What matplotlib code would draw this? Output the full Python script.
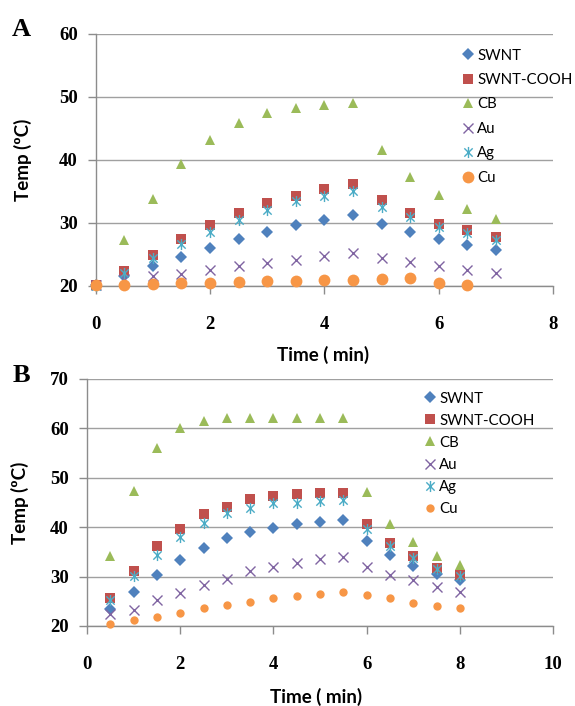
import matplotlib
matplotlib.use("Agg")
import matplotlib.pyplot as plt
from matplotlib.path import Path

# --- Panel A values ---
time_a = [0, 0.5, 1, 1.5, 2, 2.5, 3, 3.5, 4, 4.5, 5, 5.5, 6, 6.5, 7]
swnt_a = [20.1, 21.6, 23.1, 24.6, 26.0, 27.4, 28.6, 29.6, 30.5, 31.3, 29.8, 28.6, 27.5, 26.5, 25.7]
cooh_a = [20.2, 22.4, 24.9, 27.5, 29.7, 31.5, 33.1, 34.3, 35.3, 36.1, 33.6, 31.6, 29.9, 28.9, 27.7]
cb_a = [20.2, 27.3, 33.8, 39.4, 43.2, 45.8, 47.4, 48.2, 48.7, 49.0, 41.6, 37.3, 34.4, 32.2, 30.6]
au_a = [20.1, 21.1, 21.6, 21.9, 22.5, 23.1, 23.7, 24.2, 24.7, 25.3, 24.5, 23.8, 23.2, 22.6, 22.0]
ag_a = [20.0, 22.0, 24.5, 26.6, 28.6, 30.5, 32.0, 33.4, 34.2, 35.0, 32.6, 31.0, 29.4, 28.4, 27.3]
time_a_cu = [0, 0.5, 1, 1.5, 2, 2.5, 3, 3.5, 4, 4.5, 5, 5.5, 6, 6.5]
cu_a = [20.2, 20.2, 20.3, 20.4, 20.5, 20.6, 20.8, 20.8, 21.0, 21.0, 21.1, 21.2, 20.5, 20.1]

# --- Panel B values ---
time_b = [0.5, 1, 1.5, 2, 2.5, 3, 3.5, 4, 4.5, 5, 5.5, 6, 6.5, 7, 7.5, 8]
swnt_b = [23.4, 26.9, 30.4, 33.3, 35.8, 37.7, 39.0, 39.9, 40.6, 41.1, 41.4, 37.2, 34.3, 32.2, 30.6, 29.3]
cooh_b = [25.7, 31.1, 36.2, 39.7, 42.6, 44.1, 45.6, 46.3, 46.7, 46.8, 46.9, 40.7, 36.7, 34.1, 31.8, 30.4]
cb_b = [34.1, 47.3, 55.9, 60.1, 61.5, 62.0, 62.1, 62.1, 62.1, 62.1, 62.1, 47.1, 40.7, 37.0, 34.1, 32.3]
au_b = [22.4, 23.2, 25.3, 26.7, 28.3, 29.6, 31.1, 32.0, 32.7, 33.5, 34.0, 32.0, 30.3, 29.2, 27.9, 26.9]
ag_b = [25.3, 30.1, 34.3, 38.0, 40.9, 42.8, 43.9, 44.8, 44.9, 45.3, 45.4, 39.7, 36.2, 33.7, 31.6, 30.2]
cu_b = [20.4, 21.2, 21.9, 22.7, 23.6, 24.2, 24.8, 25.6, 26.1, 26.5, 26.9, 26.3, 25.6, 24.7, 24.0, 23.6]

labels = ["SWNT", "SWNT-COOH", "CB", "Au", "Ag", "Cu"]
colors = ["#4F81BD", "#C0504D", "#9BBB59", "#8064A2", "#4BACC6", "#F79646"]

# asterisk marker: vertical bar plus an X
star = Path([(0, -1), (0, 1), (-0.75, -0.75), (0.75, 0.75), (-0.75, 0.75), (0.75, -0.75)],
            [Path.MOVETO, Path.LINETO, Path.MOVETO, Path.LINETO, Path.MOVETO, Path.LINETO])

W, H = 575, 706
fig = plt.figure(figsize=(W / 100, H / 100), dpi=100)

tick_font = dict(family="Liberation Serif", weight="bold", size=13.5)
label_font = dict(family="Lato", weight="bold", size=13.5)
grid_c = "#A0A0A0"


def px_axes(left, right, top, bottom):
    return fig.add_axes([left / W, 1 - bottom / H, (right - left) / W, (bottom - top) / H])


def style(ax, xmax, ymin, ymax, ystep):
    ax.set_xlim(0, xmax)
    ax.set_ylim(ymin, ymax)
    ax.set_xticks(range(0, xmax + 1, 2))
    ax.set_yticks(range(ymin, ymax + 1, ystep))
    ax.grid(axis="y", color=grid_c, linewidth=1.0, zorder=0)
    for s in ["top", "right"]:
        ax.spines[s].set_visible(False)
    for s in ["left", "bottom"]:
        ax.spines[s].set_color("#8C8C8C")
        ax.spines[s].set_linewidth(1.0)
    ax.tick_params(axis="both", colors="#8C8C8C", length=6, width=1.0)
    ax.tick_params(axis="x", pad=15.5, labelcolor="black")
    ax.tick_params(axis="y", pad=7, labelcolor="black")
    for t in ax.get_xticklabels() + ax.get_yticklabels():
        t.set_fontfamily(tick_font["family"])
        t.set_fontweight(tick_font["weight"])
        t.set_fontsize(tick_font["size"])
    ax.set_xlabel("Time ( min)", **label_font)
    ax.set_ylabel("Temp (ºC)", **label_font)


def draw(ax, xs, xcu, series, cu_size):
    marks = ["D", "s", "^", "x", star, "o"]
    sizes = [6.5, 7.5, 7.5, 7.5, 8, cu_size]
    for i, (lab, ys) in enumerate(zip(labels, series)):
        x = xcu if lab == "Cu" else xs
        kw = dict(markeredgewidth=1.0) if i in (3, 4) else dict(markeredgewidth=0)
        ax.plot(x, ys, linestyle="none", marker=marks[i], markersize=sizes[i],
                color=colors[i], label=lab, clip_on=False, zorder=3, **kw)


# Panel A
ax_a = px_axes(95.7, 553, 33.7, 286)
draw(ax_a, time_a, time_a_cu, [swnt_a, cooh_a, cb_a, au_a, ag_a, cu_a], 8.5)
style(ax_a, 8, 20, 60, 10)
ax_a.xaxis.set_label_coords(0.497, -0.238)
ax_a.yaxis.set_label_coords(-0.139, 0.5)
ax_a.legend(loc="upper left", bbox_to_anchor=(454 / W, 1 - 41 / H), bbox_transform=fig.transFigure,
            frameon=False, handlelength=0.8, handletextpad=0.25, labelspacing=0.7,
            borderpad=0, prop=dict(family="Lato", size=10.8))

# Panel B
ax_b = px_axes(87, 553, 378.7, 626)
draw(ax_b, time_b, time_b, [swnt_b, cooh_b, cb_b, au_b, ag_b, cu_b], 6)
style(ax_b, 10, 20, 70, 10)
ax_b.xaxis.set_label_coords(0.492, -0.251)
ax_b.yaxis.set_label_coords(-0.125, 0.5)
ax_b.legend(loc="upper left", bbox_to_anchor=(416 / W, 1 - 384 / H), bbox_transform=fig.transFigure,
            frameon=False, handlelength=0.8, handletextpad=0.25, labelspacing=0.54,
            borderpad=0, prop=dict(family="Lato", size=10.8))

fig.text(21 / W, 1 - 30 / H, "A", ha="center", va="center",
         family="Liberation Serif", weight="bold", size=19)
fig.text(21 / W, 1 - 376 / H, "B", ha="center", va="center",
         family="Liberation Serif", weight="bold", size=19)

fig.savefig("out.png", dpi=100)
